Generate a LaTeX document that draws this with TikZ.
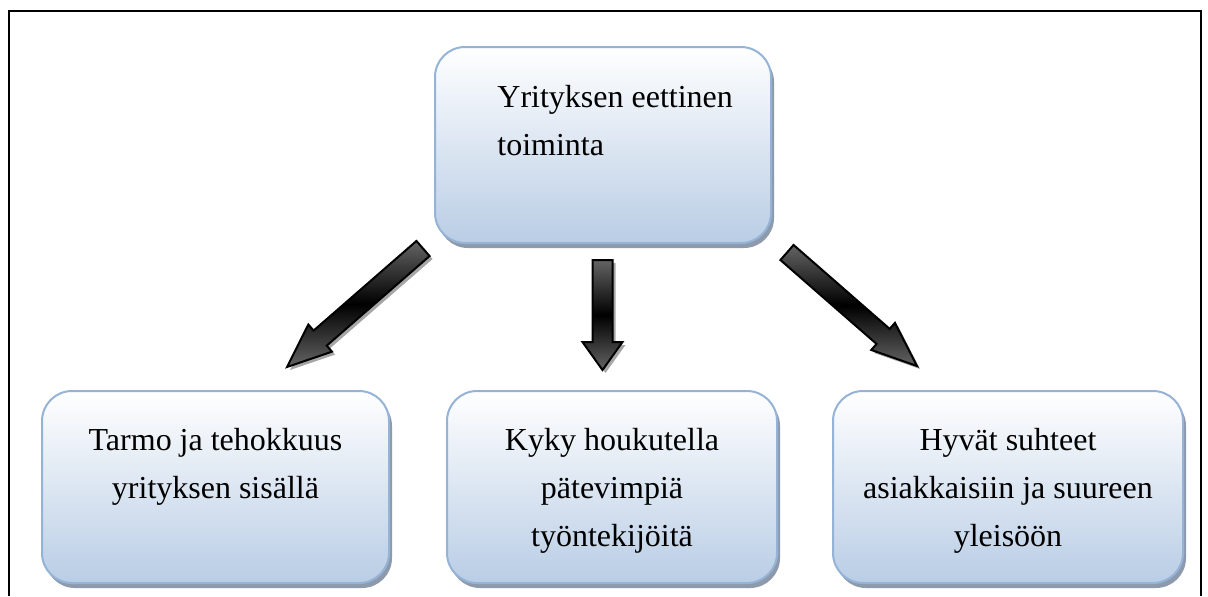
\documentclass[tikz,border=0pt]{standalone}
\usepackage{fontspec}
\setmainfont{Liberation Serif}
\usetikzlibrary{calc,positioning,shadows}
\definecolor{boxline}{RGB}{149,179,215}
\definecolor{boxfill}{RGB}{185,205,229}
\definecolor{boxshadow}{RGB}{141,154,171}
\definecolor{arrowgray}{RGB}{100,100,100}
\definecolor{arrowshadow}{RGB}{166,166,166}
% tail, tip, head length, half head width
\newcommand\blockarrow[4]{%
  \coordinate (hb) at ($(#2)!#3!(#1)$);
  \path[arrowbody]
      ($(#1)!5pt!90:(#2)$) -- ($(hb)!5pt!90:(#2)$)
                           -- ($(hb)!#4!90:(#2)$)
                           -- (#2)
                           -- ($(hb)!#4!-90:(#2)$)
                           -- ($(hb)!5pt!-90:(#2)$)
                           -- ($(#1)!5pt!-90:(#2)$) -- cycle;}

\begin{document}
\begin{tikzpicture}[x=0.5pt,y=-0.5pt,
    box/.style={draw=boxline, line width=1pt, rounded corners=15pt,
        top color=white, bottom color=boxfill, anchor=north west,
        drop shadow={shadow xshift=1.5pt, shadow yshift=-2.5pt,
            fill=boxshadow, opacity=1}},
    boxtext/.style={font=\fontsize{16}{24}\selectfont, align=center,
        inner sep=0pt},
    arrowbody/.style={draw=black, line width=1pt, line join=miter,
        top color=arrowgray, bottom color=arrowgray, middle color=black,
        drop shadow={shadow xshift=1.5pt, shadow yshift=-1.5pt,
            fill=arrowshadow, opacity=1}}]
  \useasboundingbox (0,0) rectangle (1208,596);
  \draw[line width=0.8pt] (9,596) -- (9,11) -- (1201,11) -- (1201,596);

  \node[box, minimum width=168pt, minimum height=98pt] (topbox) at (434,46) {};
  \node[box, minimum width=173.5pt, minimum height=96pt] (leftbox) at (41,390) {};
  \node[box, minimum width=165pt, minimum height=96pt] (midbox) at (446,390) {};
  \node[box, minimum width=175pt, minimum height=96pt] (rightbox) at (832,390) {};

  \node[boxtext, align=left, anchor=north west] (toptext) at (497,85)
      {Yrityksen eettinen\\toiminta};
  \node[boxtext, below=19pt of leftbox.north] (lefttext)
      {Tarmo ja tehokkuus\\yrityksen sisällä};
  \node[boxtext, below=19pt of midbox.north] (midtext)
      {Kyky houkutella\\pätevimpiä\\työntekijöitä};
  \node[boxtext, below=19pt of rightbox.north] (righttext)
      {Hyvät suhteet\\asiakkaisiin ja suureen\\yleisöön};

  \coordinate (lefttail) at (423,248.5);
  \coordinate (lefttip) at (287,367);
  \coordinate (midtail) at (602.5,260);
  \coordinate (midtip) at (602.5,370);
  \coordinate (righttail) at (787,252.5);
  \coordinate (righttip) at (917,366);
  \blockarrow{lefttail}{lefttip}{22pt}{9pt}
  \blockarrow{midtail}{midtip}{14pt}{10pt}
  \blockarrow{righttail}{righttip}{22.5pt}{9pt}
\end{tikzpicture}
\end{document}
